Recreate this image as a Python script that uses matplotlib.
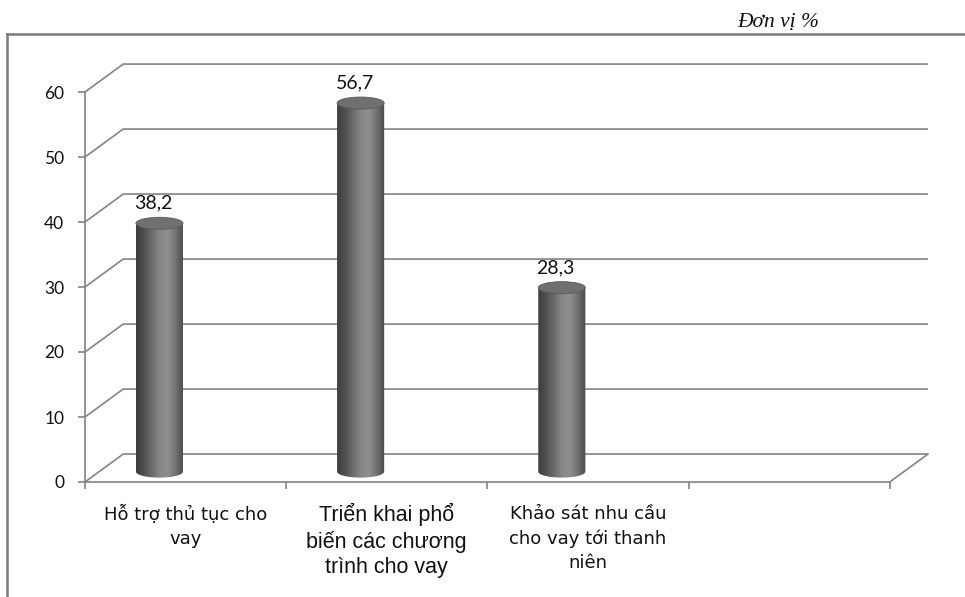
import numpy as np
import matplotlib.pyplot as plt
from matplotlib.patches import Ellipse, PathPatch
from matplotlib.path import Path
from matplotlib.colors import LinearSegmentedColormap
from matplotlib.lines import Line2D

# Survey results (%), one cylinder per activity; the 4th slot stays empty
categories = ["Hỗ trợ thủ tục cho\nvay",
              "Triển khai phổ\nbiến các chương\ntrình cho vay",
              "Khảo sát nhu cầu\ncho vay tới thanh\nniên"]
values = [38.2, 56.7, 28.3]
value_labels = ["38,2", "56,7", "28,3"]
yticks = [0, 10, 20, 30, 40, 50, 60]
n_slots = 4

# pseudo-3D depth offset of the back wall (data units)
DX, DY = 0.19, 4.3
GRID = "#838383"
INK = "#111111"

fig = plt.figure(figsize=(9.65, 5.97), dpi=100)
ax = fig.add_axes([85 / 965, 115 / 597, 849 / 965, 418.6 / 597])
ax.set_xlim(0, 4.22)
ax.set_ylim(0, 64.4)

# back wall grid: diagonal from the front axis, then across the back
for v in yticks:
    ax.plot([0, DX, n_slots + DX], [v, v + DY, v + DY], color=GRID, lw=1.2,
            zorder=1, solid_capstyle="butt")
# right edge of the floor
ax.plot([n_slots, n_slots + DX], [0, DY], color=GRID, lw=1.2, zorder=1)

for s in ["top", "right"]:
    ax.spines[s].set_visible(False)
for s in ["left", "bottom"]:
    ax.spines[s].set_color(GRID)
    ax.spines[s].set_linewidth(1.2)
ax.spines["left"].set_bounds(0, 60)
ax.spines["bottom"].set_bounds(0, n_slots)

ax.set_yticks(yticks)
ax.set_yticklabels([str(t) for t in yticks], family="Lato", fontsize=12.5,
                   color=INK)
ax.set_xticks(range(n_slots + 1))
ax.set_xticklabels([])
ax.tick_params(axis="both", colors=GRID, width=1.2, length=5, direction="out")
ax.tick_params(axis="y", pad=10, labelcolor=INK)

# cylinder shading
body_cmap = LinearSegmentedColormap.from_list(
    "cyl", ["#3c3c3c", "#505050", "#6c6c6c", "#878787", "#8f8f8f",
            "#707070", "#484848"])
grad = np.linspace(0, 1, 256)[None, :]

half_w = 0.117
cap_h = 1.85
base = 1.6
for i, (v, lab) in enumerate(zip(values, value_labels)):
    xc = i + 0.37
    x0, x1 = xc - half_w, xc + half_w
    top = base + v
    t = np.linspace(np.pi, 2 * np.pi, 60)
    bottom_arc = np.column_stack([xc + half_w * np.cos(t),
                                  base + cap_h / 2 * np.sin(t)])
    verts = np.vstack([bottom_arc, [[x1, top], [x0, top]], bottom_arc[:1]])
    codes = [Path.MOVETO] + [Path.LINETO] * (len(verts) - 2) + [Path.CLOSEPOLY]
    body = PathPatch(Path(verts, codes), facecolor="none", edgecolor="none",
                     zorder=3)
    ax.add_patch(body)
    im = ax.imshow(grad, cmap=body_cmap, aspect="auto", zorder=3,
                   extent=[x0, x1, base - cap_h, top], interpolation="bilinear")
    im.set_clip_path(body)
    ax.add_patch(Ellipse((xc, top), 2 * half_w, cap_h, facecolor="#707070",
                         edgecolor="#5a5a5a", lw=0.6, zorder=4))
    ax.annotate(lab, (xc - 0.03, top + cap_h / 2), xytext=(0, 4),
                textcoords="offset points", ha="center", va="bottom",
                family="Lato", fontsize=14, color=INK,
                annotation_clip=False)

# category names under the floor
fonts = [("DejaVu Sans", 13, 1.42, -16.5),
         ("Liberation Sans", 15.5, 1.27, -15),
         ("DejaVu Sans", 13, 1.45, -16.5)]
for i, (name, (fam, fs, ls, off)) in enumerate(zip(categories, fonts)):
    ax.annotate(name, (i + 0.5, 0), xytext=(0, off), textcoords="offset points",
                ha="center", va="top", family=fam, fontsize=fs,
                color=INK, linespacing=ls, annotation_clip=False)

ax.set_facecolor("none")

# unit note and outer frame
fig.text(778 / 965, 1 - 22 / 597, "Đơn vị %", family="Liberation Serif",
         style="italic", fontsize=15.5, ha="center", va="center", color=INK)
fig.add_artist(Line2D([7 / 965, 7 / 965], [0, 1 - 34 / 597],
                      transform=fig.transFigure, color="#7a7a7a", lw=1.8))
fig.add_artist(Line2D([7 / 965, 1], [1 - 34 / 597, 1 - 34 / 597],
                      transform=fig.transFigure, color="#7a7a7a", lw=1.8))

fig.savefig("out.png", dpi=100)
